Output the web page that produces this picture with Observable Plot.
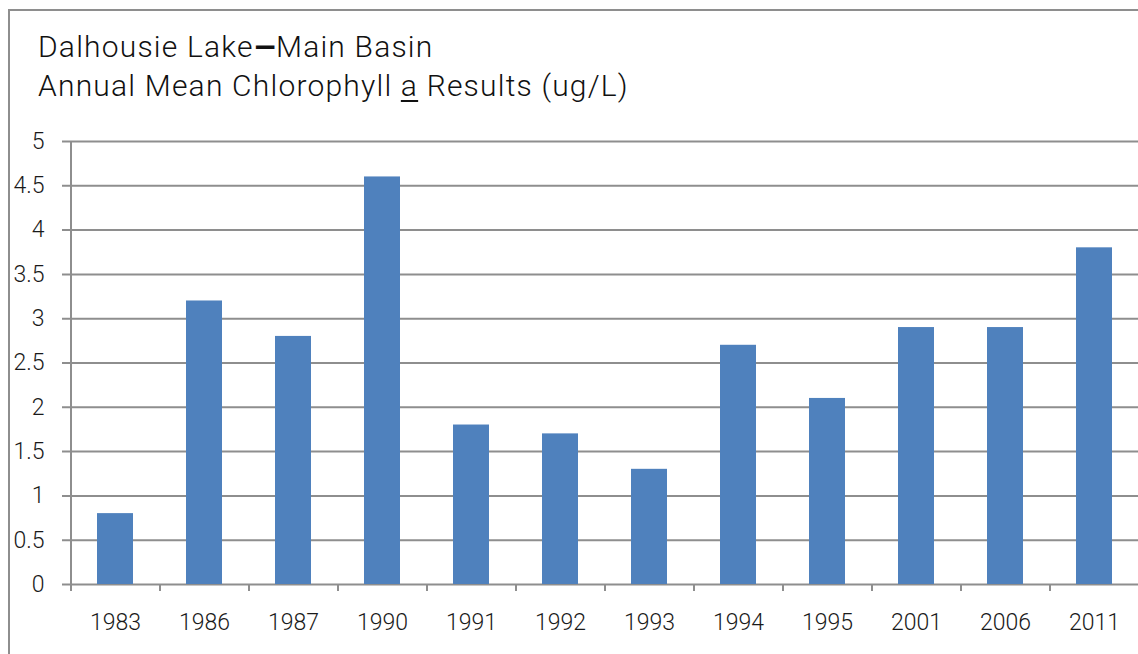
<!DOCTYPE html>
<html>
<head>
<meta charset="utf-8">
<script src="https://cdn.jsdelivr.net/npm/d3@7"></script>
<script src="https://cdn.jsdelivr.net/npm/@observablehq/plot@0.6"></script>
<style>
  html, body { margin: 0; padding: 0; background: #fff; overflow: hidden; }
  body { width: 1138px; height: 654px; position: relative; font-family: "Roboto", sans-serif; }
  #frame { position: absolute; left: 8px; top: 9px; width: 1140px; height: 660px; border-left: 2px solid #8e8e8e; border-top: 2px solid #8e8e8e; }
  #title { position: absolute; left: 38px; top: 27px; font-size: 30px; line-height: 39px; color: #111; font-weight: 300; letter-spacing: 1.2px; white-space: nowrap; }
  #title u { text-decoration-thickness: 2px; text-underline-offset: 4px; }
  #title .dash { font-weight: 900; font-size: 27px; line-height: 0; letter-spacing: 0; margin: 0 1px; }
  #chart { position: absolute; left: 0; top: 120px; }
</style>
</head>
<body>
<div id="frame"></div>
<div id="title">Dalhousie Lake<span class="dash">—</span>Main Basin<br>Annual Mean Chlorophyll <u>a</u> Results (ug/L)</div>
<div id="chart"></div>
<script>
const years = ["1983","1986","1987","1990","1991","1992","1993","1994","1995","2001","2006","2011"];
const chlorophyll = [0.8, 3.2, 2.8, 4.6, 1.8, 1.7, 1.3, 2.7, 2.1, 2.9, 2.9, 3.8];
const yTicks = [0, 0.5, 1, 1.5, 2, 2.5, 3, 3.5, 4, 4.5, 5];

const data = years.map((y, i) => ({year: y, value: chlorophyll[i]}));

const W = 1138, H = 534, mL = 70, mR = 0, mT = 21, mB = 70;
const step = (W - mL - mR) / years.length;
const grid = "#8e8e8e";

const chart = Plot.plot({
  width: W,
  height: H,
  marginLeft: mL,
  marginRight: mR,
  marginTop: mT,
  marginBottom: mB,
  style: {fontFamily: "Roboto, sans-serif", fontWeight: 300, fontSize: "23px", color: "#1a1a1a", background: "none", overflow: "visible"},
  x: {domain: years, paddingInner: 0.6, paddingOuter: 0.3, align: 0.5, label: null, axis: null},
  y: {domain: [0, 5], label: null, axis: null},
  marks: [
    Plot.ruleY(yTicks, {y: d => d, stroke: grid, strokeWidth: 2, insetLeft: -8}),
    Plot.barY(data, {x: "year", y: "value", fill: "#4f81bd"}),
    Plot.ruleX([years[0]], {x: d => d, y1: -0.08, y2: 5, stroke: grid, strokeWidth: 2, dx: -step / 2}),
    Plot.ruleX(years, {x: d => d, y1: -0.08, y2: 0, stroke: grid, strokeWidth: 2, dx: step / 2}),
    Plot.axisY({ticks: yTicks, tickSize: 0, tickPadding: 26, tickFormat: d => String(d), fill: "#1a1a1a", fontSize: 23, fontWeight: 300}),
    Plot.axisX({tickSize: 0, tickPadding: 29, fill: "#1a1a1a", fontSize: 23, fontWeight: 300})
  ]
});
document.getElementById("chart").appendChild(chart);
</script>
</body>
</html>
